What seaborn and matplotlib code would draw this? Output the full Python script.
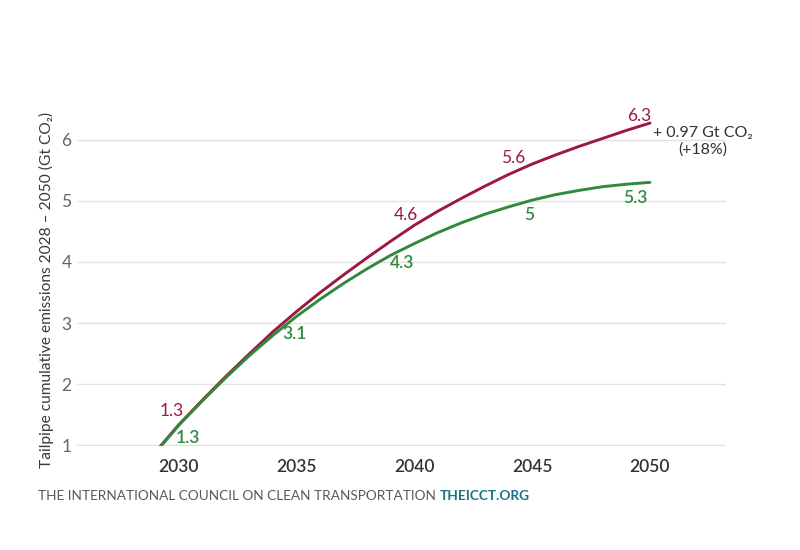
import matplotlib
matplotlib.use("Agg")
import matplotlib.pyplot as plt
import seaborn as sns
import pandas as pd

years = list(range(2029, 2051))
red_values = [0.89, 1.34, 1.74, 2.13, 2.50, 2.86, 3.19, 3.50, 3.79, 4.07, 4.34, 4.60,
              4.83, 5.04, 5.24, 5.43, 5.60, 5.75, 5.89, 6.02, 6.15, 6.27]
green_values = [0.88, 1.33, 1.73, 2.11, 2.47, 2.80, 3.11, 3.39, 3.65, 3.89, 4.11, 4.30,
                4.48, 4.64, 4.78, 4.90, 5.01, 5.10, 5.17, 5.23, 5.27, 5.30]
series_names = ["Higher emissions", "Lower emissions"]
red_labels = {2030: "1.3", 2040: "4.6", 2045: "5.6", 2050: "6.3"}
green_labels = {2030: "1.3", 2035: "3.1", 2040: "4.3", 2045: "5", 2050: "5.3"}
x_ticks = [2030, 2035, 2040, 2045, 2050]
y_ticks = [1, 2, 3, 4, 5, 6]
annotation_lines = ["+ 0.97 Gt CO\u2082", "(+18%)"]
y_label = "Tailpipe cumulative emissions 2028 \u2013 2050 (Gt CO\u2082)"
footer_main = "THE INTERNATIONAL COUNCIL ON CLEAN TRANSPORTATION "
footer_link = "THEICCT.ORG"

RED = "#9c1944"
GREEN = "#2f8a3c"

df = pd.DataFrame({
    "year": years * 2,
    "value": red_values + green_values,
    "series": [series_names[0]] * len(years) + [series_names[1]] * len(years),
})

sns.set_theme(style="white")
plt.rcParams["font.family"] = ["Lato", "DejaVu Sans"]

fig = plt.figure(figsize=(8, 5.5), dpi=100)
ax = fig.add_axes([77 / 800, 1 - 446.2 / 550, 649 / 800, (446.2 - 102.9) / 550])

sns.lineplot(data=df, x="year", y="value", hue="series",
             palette={series_names[0]: RED, series_names[1]: GREEN},
             linewidth=2.1, legend=False, ax=ax)

ax.set_xlim(2025.67, 2053.23)
ax.set_ylim(0.985, 6.6)
ax.set_xticks(x_ticks)
ax.set_yticks(y_ticks)
ax.set_xticklabels([str(t) for t in x_ticks], color="#333333", fontsize=12.5, fontweight="semibold")
ax.set_yticklabels([str(t) for t in y_ticks], color="#666666", fontsize=12.5)
ax.tick_params(axis="both", length=0)
ax.tick_params(axis="x", pad=9)
ax.tick_params(axis="y", pad=4)
ax.yaxis.grid(True, color="#e2e2e2", linewidth=1)
ax.xaxis.grid(False)
for s in ax.spines.values():
    s.set_visible(False)
ax.set_xlabel("")
ax.set_ylabel("")

fig.text(46.5 / 800, 1 - 290 / 550, y_label, rotation=90, ha="center", va="center",
         fontsize=11.2, color="#3a3a3a")

red_offsets = {2030: (-7, 13), 2040: (-8.5, 10), 2045: (-19, 6), 2050: (-10.7, 7.3)}
green_offsets = {2030: (9, -13), 2035: (-2.5, -18), 2040: (-12.8, -19.2),
                 2045: (-3.3, -15), 2050: (-15, -15.3)}
for yr, txt in red_labels.items():
    v = red_values[years.index(yr)]
    ax.annotate(txt, (yr, v), xytext=red_offsets[yr], textcoords="offset pixels",
                ha="center", va="center", color=RED, fontsize=12.5)
for yr, txt in green_labels.items():
    v = green_values[years.index(yr)]
    ax.annotate(txt, (yr, v), xytext=green_offsets[yr], textcoords="offset pixels",
                ha="center", va="center", color=GREEN, fontsize=12.5, fontweight="semibold")

fig.text(703 / 800, 1 - 132.7 / 550, annotation_lines[0], ha="center", va="center",
         fontsize=11.5, color="#333333")
fig.text(703 / 800, 1 - 149.3 / 550, annotation_lines[1], ha="center", va="center",
         fontsize=11.5, color="#333333")

t1 = fig.text(38 / 800, 1 - 496 / 550, footer_main, ha="left", va="center",
              fontsize=9.8, color="#555a5e")
fig.canvas.draw()
bb = t1.get_window_extent()
fig.text(bb.x1 / 800, 1 - 496 / 550, footer_link, ha="left", va="center",
         fontsize=9.8, color="#1d7283", fontweight="bold")

fig.savefig("out.png", dpi=100)
